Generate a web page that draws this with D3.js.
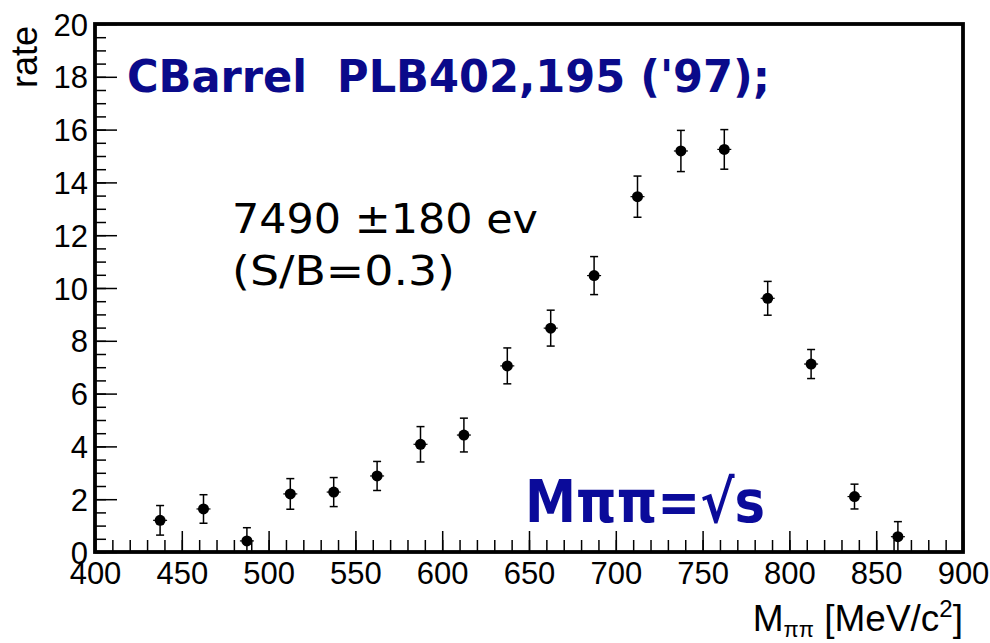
<!DOCTYPE html>
<head>
<meta charset="utf-8">
<style>
body { margin: 0; background: #fff; }
svg { display: block; }
.axis text { font-family: "Liberation Sans", Arial, sans-serif; font-size: 31px; fill: #000; }
.axis path { stroke: #000; stroke-width: 3.5px; }
.axis line { stroke: #000; stroke-width: 1.5px; }
</style>
</head>
<body>
<svg width="990" height="643"></svg>
<script src="https://d3js.org/d3.v7.min.js"></script>
<script>
// bin centres (MeV/c^2), rate and error
var mass = [437.5, 462.5, 487.5, 512.5, 537.5, 562.5, 587.5, 612.5, 637.5,
            662.5, 687.5, 712.5, 737.5, 762.5, 787.5, 812.5, 837.5, 862.5];
var rate = [1.2, 1.63, 0.42, 2.2, 2.27, 2.88, 4.08, 4.43, 7.05,
            8.48, 10.47, 13.46, 15.19, 15.25, 9.61, 7.12, 2.1, 0.58];
var err  = [0.56, 0.54, 0.5, 0.58, 0.55, 0.55, 0.67, 0.64, 0.68,
            0.68, 0.72, 0.78, 0.78, 0.75, 0.64, 0.55, 0.47, 0.57];
var xTicks = [400, 450, 500, 550, 600, 650, 700, 750, 800, 850, 900];
var yTicks = [0, 2, 4, 6, 8, 10, 12, 14, 16, 18, 20];

var svg = d3.select("svg");
var padL = 95, padR = 963, padT = 24, padB = 552;

var x = d3.scaleLinear().domain([400, 900]).range([padL, padR]);
var y = d3.scaleLinear().domain([0, 20]).range([padB, padT]);

// minor ticks first
svg.append("g")
    .attr("class", "axis")
    .attr("transform", "translate(0," + padB + ")")
    .call(d3.axisBottom(x).tickValues(d3.range(400, 901, 10)).tickSize(-12).tickFormat(""))
    .select(".domain").remove();
svg.append("g")
    .attr("class", "axis")
    .attr("transform", "translate(" + padL + ",0)")
    .call(d3.axisLeft(y).tickValues(d3.range(0, 20.01, 0.5)).tickSize(-11).tickFormat(""))
    .select(".domain").remove();

// major ticks + labels
var xAxis = svg.append("g")
    .attr("class", "axis")
    .attr("transform", "translate(0," + padB + ")")
    .call(d3.axisBottom(x).tickValues(xTicks).tickSize(-21).tickSizeOuter(0).tickPadding(10));
xAxis.select(".domain").remove();
xAxis.selectAll("text").attr("dy", "0.72em");

var yAxis = svg.append("g")
    .attr("class", "axis")
    .attr("transform", "translate(" + padL + ",0)")
    .call(d3.axisLeft(y).tickValues(yTicks).tickSize(-22).tickSizeOuter(0).tickPadding(7));
yAxis.select(".domain").remove();
yAxis.selectAll("text").attr("dy", "0.36em");

// frame
svg.append("rect")
    .attr("x", padL).attr("y", padT)
    .attr("width", padR - padL).attr("height", padB - padT)
    .attr("fill", "none").attr("stroke", "#000").attr("stroke-width", 3.8);

// axis titles
svg.append("text")
    .attr("transform", "translate(37," + (padT + 2) + ") rotate(-90)")
    .attr("text-anchor", "end")
    .style("font-family", "Liberation Sans, Arial, sans-serif")
    .style("font-size", "36px")
    .text("rate");

var xt = svg.append("text")
    .attr("x", padR).attr("y", 631)
    .attr("text-anchor", "end")
    .style("font-family", "Liberation Sans, Arial, sans-serif")
    .style("font-size", "37px");
xt.append("tspan").text("M");
xt.append("tspan").attr("dy", 6).style("font-size", "22px").text("ππ");
xt.append("tspan").attr("dy", -6).text(" [MeV/c");
xt.append("tspan").attr("dy", -14).style("font-size", "24px").text("2");
xt.append("tspan").attr("dy", 14).text("]");

// data points
var pts = mass.map(function(m, i) { return {m: m, r: rate[i], e: err[i]}; });
var g = svg.append("g");
g.selectAll(".eb").data(pts).enter().append("line")
    .attr("x1", function(d) { return x(d.m); }).attr("x2", function(d) { return x(d.m); })
    .attr("y1", function(d) { return y(d.r + d.e); }).attr("y2", function(d) { return y(Math.max(0, d.r - d.e)); })
    .attr("stroke", "#000").attr("stroke-width", 1.5);
g.selectAll(".capT").data(pts).enter().append("line")
    .attr("x1", function(d) { return x(d.m) - 4; }).attr("x2", function(d) { return x(d.m) + 4; })
    .attr("y1", function(d) { return y(d.r + d.e); }).attr("y2", function(d) { return y(d.r + d.e); })
    .attr("stroke", "#000").attr("stroke-width", 1.5);
g.selectAll(".capB").data(pts.filter(function(d) { return d.r - d.e > 0; })).enter().append("line")
    .attr("x1", function(d) { return x(d.m) - 4; }).attr("x2", function(d) { return x(d.m) + 4; })
    .attr("y1", function(d) { return y(d.r - d.e); }).attr("y2", function(d) { return y(d.r - d.e); })
    .attr("stroke", "#000").attr("stroke-width", 1.5);
g.selectAll(".xe").data(pts).enter().append("line")
    .attr("x1", function(d) { return x(d.m) - 7; }).attr("x2", function(d) { return x(d.m) + 7; })
    .attr("y1", function(d) { return y(d.r); }).attr("y2", function(d) { return y(d.r); })
    .attr("stroke", "#000").attr("stroke-width", 1.2);
g.selectAll("circle").data(pts).enter().append("circle")
    .attr("cx", function(d) { return x(d.m); })
    .attr("cy", function(d) { return y(d.r); })
    .attr("r", 5.5).attr("fill", "#000");

// annotations
svg.append("text")
    .attr("x", 127).attr("y", 92)
    .attr("textLength", 643).attr("lengthAdjust", "spacingAndGlyphs")
    .style("white-space", "pre")
    .style("font-family", "DejaVu Sans, sans-serif").style("font-weight", "bold")
    .style("font-size", "45px").style("fill", "#0a0a8a")
    .text("CBarrel  PLB402,195 ('97);");

svg.append("text")
    .attr("x", 232).attr("y", 233)
    .attr("textLength", 306).attr("lengthAdjust", "spacingAndGlyphs")
    .style("font-family", "DejaVu Sans, sans-serif")
    .style("font-size", "40px").style("fill", "#000")
    .text("7490 ±180 ev");
svg.append("text")
    .attr("x", 232).attr("y", 285)
    .attr("textLength", 223).attr("lengthAdjust", "spacingAndGlyphs")
    .style("font-family", "DejaVu Sans, sans-serif")
    .style("font-size", "40px").style("fill", "#000")
    .text("(S/B=0.3)");

svg.append("text")
    .attr("x", 525).attr("y", 522)
    .attr("textLength", 240).attr("lengthAdjust", "spacingAndGlyphs")
    .style("font-family", "DejaVu Sans, sans-serif").style("font-weight", "bold")
    .style("font-size", "58px").style("fill", "#0b0b9a")
    .text("Mππ=√s");
</script>
</body>
